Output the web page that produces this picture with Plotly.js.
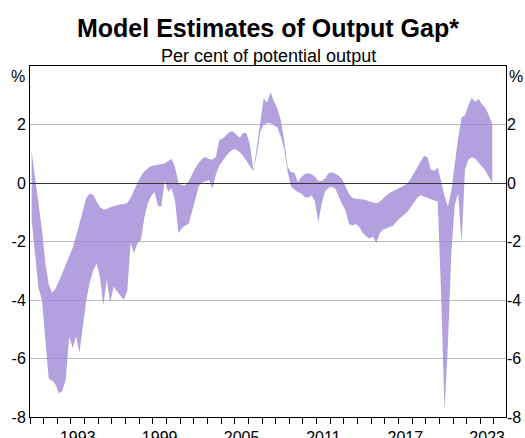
<!DOCTYPE html>
<html>
<head>
<meta charset="utf-8">
<script src="https://cdn.plot.ly/plotly-3.0.1.min.js"></script>
<style>
html,body{margin:0;padding:0;background:#fff;}
#chart{width:525px;height:438px;}
</style>
</head>
<body>
<div id="chart"></div>
<script>
// Quarterly model estimates, 1990 Q1 to 2023 Q4 (per cent of potential output)
const firstYear = 1990;
const upperEstimate = [
  1.05, 0.2, -0.68, -1.59,
  -2.73, -3.47, -3.75, -3.61,
  -3.35, -3.07, -2.78, -2.5,
  -2.22, -1.82, -1.36, -0.91,
  -0.51, -0.36, -0.4, -0.63,
  -0.82, -0.91, -0.89, -0.83,
  -0.8, -0.75, -0.73, -0.73,
  -0.68, -0.51, -0.23, 0.0,
  0.23, 0.4, 0.5, 0.58,
  0.6, 0.62, 0.64, 0.67,
  0.75, 0.83, 0.55, 0.02,
  -0.08, -0.08, 0.06, 0.3,
  0.52, 0.7, 0.83, 0.9,
  0.81, 0.8, 0.9, 1.48,
  1.52, 1.63, 1.75, 1.76,
  1.65, 1.55, 1.72, 1.7,
  1.28, 0.42, 1.25, 2.1,
  2.9, 2.75, 3.1, 2.8,
  2.55, 2.15, 1.45, 0.55,
  0.38, 0.35, 0.03, 0.2,
  0.3, 0.33, 0.3, 0.22,
  0.08, 0.07, 0.15, 0.33,
  0.37, 0.32, 0.25, 0.13,
  -0.1, -0.38, -0.5, -0.54,
  -0.55, -0.56, -0.58, -0.63,
  -0.67, -0.69, -0.64, -0.52,
  -0.42, -0.33, -0.26, -0.2,
  -0.15, -0.09, -0.02, 0.13,
  0.33, 0.53, 0.74, 0.93,
  0.88, 0.45, 0.42, 0.52,
  0.07, -0.44, -0.8, -0.26,
  0.64, 1.55, 2.23, 2.32,
  2.66, 2.91, 2.77, 2.87,
  2.68, 2.57, 2.32, 2.02
];
const lowerEstimate = [
  -1.3, -2.4, -3.6, -4.0,
  -5.5, -6.7, -6.75, -6.9,
  -7.2, -7.1, -6.7, -5.25,
  -5.65, -5.25, -5.8, -4.9,
  -4.0, -3.4, -3.0, -2.75,
  -3.2, -4.2, -3.3, -4.1,
  -3.55, -3.7, -3.85, -4.0,
  -3.7, -2.05, -2.4, -2.05,
  -1.95, -1.2, -0.7, -0.45,
  -0.3, -0.78, -0.8, 0.08,
  -0.3, -0.18, -0.6, -1.72,
  -1.55, -1.45, -1.4, -0.95,
  -0.45, -0.1, 0.02, 0.05,
  0.1, -0.2, 0.3, 0.6,
  0.78, 0.92, 1.05, 1.15,
  1.14, 1.05, 0.92, 0.75,
  0.58, 0.4, 1.0, 1.75,
  2.0, 2.05, 2.05, 1.97,
  1.9, 1.6, 1.15, 0.4,
  -0.12, -0.22, -0.32, -0.35,
  -0.48, -0.5, -0.42, -0.62,
  -1.35, -0.7, -0.28, -0.16,
  -0.13, -0.2, -0.48, -0.73,
  -0.95, -1.4, -1.45, -1.4,
  -1.5, -1.7, -1.82, -1.9,
  -1.83, -2.05, -1.72, -1.6,
  -1.55, -1.5, -1.45, -1.3,
  -1.2, -1.1, -1.0, -0.85,
  -0.68, -0.5, -0.42, -0.47,
  -0.52, -0.57, -0.6, -0.62,
  -3.8, -7.8, -5.5, -2.4,
  -0.75, -0.35, -2.05, 0.45,
  0.8, 0.88, 0.84, 0.7,
  0.55, 0.42, 0.2, 0.02
];
const yearLabels = ['1993', '1999', '2005', '2011', '2017', '2023'];
const yTickValues = [-8, -6, -4, -2, 0, 2];
const yTickLabels = ['-8', '-6', '-4', '-2', '0', '2'];

// quarter mid-points in decimal years
const quarterPos = upperEstimate.map((_, i) => firstYear + Math.floor(i / 4) + (i % 4) / 4 + 0.125);
// year labels centred within each year
const yearLabelPos = yearLabels.map(y => Number(y) + 0.5);

const fam = '"Liberation Sans", Arial, Helvetica, sans-serif';
const bandColor = 'rgba(159,136,215,0.8)';

const traces = [
  {x: quarterPos, y: lowerEstimate, mode: 'lines', line: {width: 0, color: bandColor},
   hoverinfo: 'skip', showlegend: false},
  {x: quarterPos, y: upperEstimate, mode: 'lines', line: {width: 0, color: bandColor},
   fill: 'tonexty', fillcolor: bandColor, hoverinfo: 'skip', showlegend: false},
  {x: quarterPos, y: upperEstimate, yaxis: 'y2', mode: 'lines', line: {width: 0},
   opacity: 0, hoverinfo: 'skip', showlegend: false}
];

const tickFont = {family: fam, size: 16, color: '#000'};

const layout = {
  width: 525, height: 438,
  margin: {l: 30, r: 19, t: 66, b: 21, pad: 0},
  paper_bgcolor: '#fff', plot_bgcolor: '#fff',
  showlegend: false,
  title: {
    text: '<b>Model Estimates of Output Gap*</b>',
    font: {family: fam, size: 25, color: '#000'},
    xref: 'paper', x: 0.5, xanchor: 'center',
    yref: 'container', y: 1 - 28.5 / 438, yanchor: 'middle'
  },
  xaxis: {
    range: [1990, 2024.88],
    tickmode: 'array', tickvals: yearLabelPos, ticktext: yearLabels,
    ticks: 'outside', ticklen: 6, tickcolor: 'rgba(0,0,0,0)',
    tickfont: tickFont,
    showgrid: false, zeroline: false,
    showline: true, linecolor: '#000', linewidth: 1, mirror: true,
    minor: {tick0: 1990, dtick: 1, ticks: 'outside', ticklen: 6, tickwidth: 1, tickcolor: '#000', showgrid: false},
    fixedrange: true
  },
  yaxis: {
    range: [-8, 4],
    tickmode: 'array', tickvals: yTickValues, ticktext: yTickLabels,
    ticks: '', tickfont: tickFont,
    showgrid: true, gridcolor: '#bdbdbd', gridwidth: 1,
    zeroline: true, zerolinecolor: '#333', zerolinewidth: 1, zerolinelayer: 'above traces',
    showline: true, linecolor: '#000', linewidth: 1, mirror: true,
    fixedrange: true
  },
  yaxis2: {
    overlaying: 'y', side: 'right',
    range: [-8, 4],
    tickmode: 'array', tickvals: yTickValues, ticktext: yTickLabels,
    ticks: '', tickfont: tickFont,
    showgrid: false, zeroline: false, showline: false,
    fixedrange: true
  },
  annotations: [
    {text: 'Per cent of potential output', xref: 'paper', yref: 'paper',
     x: 0.5, y: 1 + (66 - 56.5) / 351, xanchor: 'center', yanchor: 'middle',
     showarrow: false, font: {family: fam, size: 18, color: '#000'}},
    {text: '%', xref: 'paper', yref: 'paper', x: 0, y: 1, xanchor: 'right', yanchor: 'top',
     xshift: -3, yshift: 0, showarrow: false, font: tickFont},
    {text: '%', xref: 'paper', yref: 'paper', x: 1, y: 1, xanchor: 'left', yanchor: 'top',
     xshift: 1, yshift: 0, showarrow: false, font: tickFont}
  ]
};

Plotly.newPlot('chart', traces, layout, {staticPlot: true, displayModeBar: false});
</script>
</body>
</html>
